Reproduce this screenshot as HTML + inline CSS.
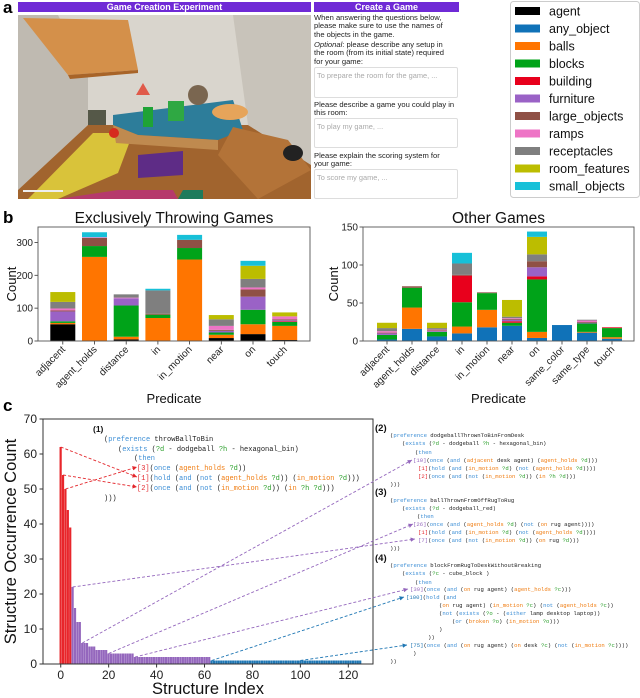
<!DOCTYPE html>
<html><head><meta charset="utf-8">
<style>
body{margin:0;width:640px;height:698px;background:#fff;position:relative;overflow:hidden;font-family:"Liberation Sans",sans-serif}
.abs{position:absolute}
.hdr{background:#6f2ad6;color:#fff;font-weight:bold;font-size:9px;text-align:center;line-height:10px;height:10px}
.ft{font-size:7.6px;line-height:8.4px;color:#222;left:314px;width:150px;white-space:nowrap}
.ta{left:314px;width:144px;border:1px solid #ddd;border-radius:2px;font-size:7.4px;color:#aaa;padding:3px 2px;box-sizing:border-box;white-space:nowrap;overflow:hidden}
</style></head><body>
<div class="abs" style="left:3px;top:-2px;font-size:17px;font-weight:bold">a</div>
<div class="abs" style="left:3px;top:208px;font-size:17px;font-weight:bold">b</div>
<div class="abs" style="left:3px;top:396px;font-size:17px;font-weight:bold">c</div>

<div class="abs hdr" style="left:18px;top:2px;width:293px">Game Creation Experiment</div>
<svg class="abs" style="left:18px;top:15px" width="293" height="184">
<rect width="293" height="184" fill="#d9d5cd"/>
<polygon points="0,0 40,0 70,60 70,110 0,175" fill="#bfbab1"/>
<polygon points="215,0 293,0 293,150 230,110" fill="#c8c3ba"/>
<polygon points="0,175 70,110 230,110 293,150 293,184 0,184" fill="#a1642e"/>
<polygon points="10,184 75,118 115,118 100,158 40,184" fill="#d9c33a"/>
<polygon points="120,140 165,136 165,160 120,163" fill="#5e2c86"/>
<polygon points="40,184 100,175 155,175 160,184" fill="#b63a6c"/>
<polygon points="160,184 165,175 185,175 185,184" fill="#1e7b5c"/>
<polygon points="5,3 110,5 120,55 50,60" fill="#d4904a"/>
<polygon points="50,60 120,55 120,58 52,64" fill="#a86428"/>
<polygon points="95,100 215,85 225,115 200,125 120,120 95,110" fill="#2d7d9a"/>
<polygon points="95,110 120,120 200,125 200,135 98,128" fill="#bf8a4f"/>
<polygon points="215,112 270,125 293,155 240,184 200,140" fill="#b37338"/>
<rect x="125" y="92" width="10" height="20" fill="#1fa336"/>
<polygon points="118,80 125,68 132,80" fill="#e05a4a"/>
<rect x="150" y="86" width="16" height="20" fill="#2fa843"/>
<circle cx="180" cy="80" r="10" fill="#7a6650"/>
<ellipse cx="212" cy="97" rx="18" ry="8" fill="#e6a45a"/>
<rect x="70" y="95" width="18" height="15" fill="#555848"/>
<circle cx="96" cy="118" r="5" fill="#d62a1e"/>
<ellipse cx="275" cy="138" rx="10" ry="8" fill="#222"/>
<rect x="5" y="175" width="40" height="2" fill="#eee"/>
</svg>

<div class="abs hdr" style="left:314px;top:2px;width:145px">Create a Game</div>
<div class="abs ft" style="top:14px">When answering the questions below,<br>please make sure to use the names of<br>the objects in the game.</div>
<div class="abs ft" style="top:41px"><i>Optional</i>: please describe any setup in<br>the room (from its initial state) required<br>for your game:</div>
<div class="abs ta" style="top:67px;height:31px">To prepare the room for the game, ...</div>
<div class="abs ft" style="top:101px">Please describe a game you could play in<br>this room:</div>
<div class="abs ta" style="top:118px;height:30px">To play my game, ...</div>
<div class="abs ft" style="top:152px">Please explain the scoring system for<br>your game:</div>
<div class="abs ta" style="top:169px;height:30px">To score my game, ...</div>

<svg id="main" class="abs" style="left:0;top:0" width="640" height="698" font-family="Liberation Sans, sans-serif"></svg>

<script>
// ---- legend / series ----
const seriesNames = ['agent','any_object','balls','blocks','building','furniture','large_objects','ramps','receptacles','room_features','small_objects'];
const seriesColors = ['#000000','#1072b8','#ff7500','#00a319','#e8001c','#9a62c6','#8f5045','#ee74c6','#7f7f7f','#bcbd00','#17c0d8'];

// ---- chart b1: Exclusively Throwing Games ----
const catsA = ['adjacent','agent_holds','distance','in','in_motion','near','on','touch'];
const agentA = [51,0,5,0,0,9,21,3];
const anyA = [0,0,0,0,0,0,0,0];
const ballsA = [4,256,8,70,248,10,30,43];
const blocksA = [5,33,95,10,35,7,44,12];
const buildingA = [0,0,0,0,0,0,0,2];
const furnitureA = [30,0,22,0,0,5,40,3];
const largeA = [3,25,0,3,25,3,22,3];
const rampsA = [6,2,2,0,0,12,6,9];
const receptaclesA = [20,0,10,71,0,20,26,0];
const roomA = [30,0,0,0,0,13,40,12];
const smallA = [0,15,0,5,15,0,15,0];
const ticksA = [0,100,200,300];

// ---- chart b2: Other Games ----
const catsB = ['adjacent','agent_holds','distance','in','in_motion','near','on','same_color','same_type','touch'];
const agentB = [0,0,0,0,0,0,0,0,0,0];
const anyB = [2,16,6,10,18,20,4,21,11,3];
const ballsB = [0,28,0,9,23,0,8,0,1,2];
const blocksB = [6,26,6,32,22,4,69,0,11,12];
const buildingB = [0,0,0,35,0,2,4,0,0,1];
const furnitureB = [2,0,1,0,0,2,12,0,1,0];
const largeB = [1,2,1,1,1,1,8,0,1,0];
const rampsB = [2,0,1,0,0,1,0,0,2,0];
const receptaclesB = [4,0,2,15,0,2,9,0,1,0];
const roomB = [7,0,7,0,0,22,23,0,0,0];
const smallB = [0,0,0,14,0,0,7,0,0,0];
const ticksB = [0,50,100,150];

// ---- chart c: structure occurrence ----
const structCounts = [62,54,50,44,39,22,16,12,12,6,6,6,5,5,5,4,4,4,4,4,
3,3,3,3,3,3,3,3,3,3,3,
2,2,2,2,2,2,2,2,2,2,2,2,2,2,2,2,2,2,2,2,2,2,2,2,2,2,2,2,2,2,2,2,
1,1,1,1,1,1,1,1,1,1,1,1,1,1,1,1,1,1,1,1,1,1,1,1,1,1,1,1,1,1,1,1,1,1,1,1,1,1,1,1,1,1,1,1,1,1,1,1,1,1,1,1,1,1,1,1,1,1,1,1,1,1,1];
const ticksCx = [0,20,40,60,80,100,120];
const ticksCy = [0,10,20,30,40,50,60,70];
const arrowIdx = [0,1,2,5,9,20,31,63,100];

const NS='http://www.w3.org/2000/svg';
const svg=document.getElementById('main');
function mk(tag,attrs,parent){const e=document.createElementNS(NS,tag);for(const k in attrs)e.setAttribute(k,attrs[k]);(parent||svg).appendChild(e);return e;}

// legend
const lg=mk('g',{});


const lbox=mk('rect',{x:510.5,y:1.5,width:129,height:196,rx:3,fill:'#fff',stroke:'#ccc'},lg);


seriesNames.forEach((n,i)=>{
  const y=11+i*17.5;
  const g=mk('g',{},lg);
  
  
  mk('rect',{x:515,y:y-4,width:25,height:8,fill:seriesColors[i]},g);
  const t=mk('text',{x:549,y:y+4.5,'font-size':12.5,fill:'#111'},g);t.textContent=n;
});

function stacked(opts){
  const {cats,series,ticks,ymax,left,right,top,bottom,c0,step,bw,title,name,tx}=opts;
  const g=mk('g',{});
  
  
  const ys=v=>bottom-(v/ymax)*(bottom-top);
  const xs=i=>c0+i*step;
  cats.forEach((c,i)=>{
    let acc=0;
    series.forEach((arr,s)=>{
      const v=arr[i]; if(!v) return;
      const r=mk('rect',{x:xs(i)-bw/2,y:ys(acc+v),width:bw,height:ys(acc)-ys(acc+v),fill:seriesColors[s]},g);
      
      
      acc+=v;
    });
    mk('line',{x1:xs(i),x2:xs(i),y1:bottom,y2:bottom+3.5,stroke:'#333','stroke-width':0.8},g);
    const t=mk('text',{x:xs(i)+3,y:bottom+9,'font-size':10,fill:'#222','text-anchor':'end',transform:`rotate(-45 ${xs(i)+3} ${bottom+9})`},g);
    t.textContent=c;
    
    
  });
  ticks.forEach(v=>{
    mk('line',{x1:left-3.5,x2:left,y1:ys(v),y2:ys(v),stroke:'#333','stroke-width':0.8},g);
    const t=mk('text',{x:left-5,y:ys(v)+3.5,'font-size':10,fill:'#222','text-anchor':'end'},g);t.textContent=v;
  });
  mk('rect',{x:left,y:top,width:right-left,height:bottom-top,fill:'none',stroke:'#555','stroke-width':0.9},g);
  const tt=mk('text',{x:(left+right)/2,y:top-4,'font-size':15.5,'text-anchor':'middle',fill:'#111'},g);tt.textContent=title;
  
  
  const xl=mk('text',{x:(left+right)/2,y:403,'font-size':13,'text-anchor':'middle',fill:'#111'},g);xl.textContent='Predicate';
  
  
  const yl=mk('text',{x:tx,y:(top+bottom)/2,'font-size':13,'text-anchor':'middle',fill:'#111',transform:`rotate(-90 ${tx} ${(top+bottom)/2})`},g);yl.textContent='Count';
  
  
}
stacked({cats:catsA,series:[agentA,anyA,ballsA,blocksA,buildingA,furnitureA,largeA,rampsA,receptaclesA,roomA,smallA],ticks:ticksA,ymax:347,left:38,right:310,top:227,bottom:341,c0:62.8,step:31.7,bw:25,title:'Exclusively Throwing Games',name:'throwing-games-chart',tx:16});
stacked({cats:catsB,series:[agentB,anyB,ballsB,blocksB,buildingB,furnitureB,largeB,rampsB,receptaclesB,roomB,smallB],ticks:ticksB,ymax:150,left:363,right:634,top:227,bottom:341,c0:387,step:25,bw:20,title:'Other Games',name:'other-games-chart',tx:338});

// chart c
const C={left:43,right:373,top:419,bottom:664,xmin:-7.4,xmax:130.3,ymax:70};
const cx=v=>C.left+(v-C.xmin)/(C.xmax-C.xmin)*(C.right-C.left);
const cy=v=>C.bottom-v/C.ymax*(C.bottom-C.top);
const gc=mk('g',{});


structCounts.forEach((v,i)=>{
  const col=i<5?'#e8262b':(i<63?'#9467bd':'#1f77b4');
  const w=(cx(1)-cx(0));
  const r=mk('rect',{x:cx(i)-w*0.5,y:cy(v),width:w*0.92,height:cy(0)-cy(v),fill:col},gc);
  
  
});
ticksCx.forEach(v=>{
  mk('line',{x1:cx(v),x2:cx(v),y1:C.bottom,y2:C.bottom+3.5,stroke:'#333'},gc);
  const t=mk('text',{x:cx(v),y:C.bottom+15,'font-size':12,'text-anchor':'middle',fill:'#222'},gc);t.textContent=v;
});
ticksCy.forEach(v=>{
  mk('line',{x1:C.left-3.5,x2:C.left,y1:cy(v),y2:cy(v),stroke:'#333'},gc);
  const t=mk('text',{x:C.left-6,y:cy(v)+4,'font-size':12,'text-anchor':'end',fill:'#222'},gc);t.textContent=v;
});
mk('rect',{x:C.left,y:C.top,width:C.right-C.left,height:C.bottom-C.top,fill:'none',stroke:'#333','stroke-width':1},gc);
const cxl=mk('text',{x:(C.left+C.right)/2,y:694,'font-size':16.5,'text-anchor':'middle',fill:'#111'},gc);cxl.textContent='Structure Index';


const cyl=mk('text',{x:16,y:(C.top+C.bottom)/2,'font-size':16.5,'text-anchor':'middle',fill:'#111',transform:`rotate(-90 16 ${(C.top+C.bottom)/2})`},gc);cyl.textContent='Structure Occurrence Count';



// code text
const COL={k:'#222',b:'#3d8fd6',o:'#f07d12',g:'#2ca02c',r:'#e3262b',p:'#9467bd',u:'#1f77b4'};
function code(x,y,size,str){
  const t=mk('text',{x:x,y:y,'font-size':size,'font-family':'Liberation Mono, monospace','xml:space':'preserve'});
  
  
  const parts=str.split('|');
  parts.forEach((p,i)=>{
    let c='k',s=p;
    if(i>0){c=p[0];s=p.slice(1);}
    if(!s) return;
    const ts=mk('tspan',{fill:COL[c]},t);ts.textContent=s;
  });
}
function lab(x,y,s,sz){const t=mk('text',{x:x,y:y,'font-size':sz,'font-weight':'bold',fill:'#111'});t.textContent=s;

}
lab(93,432,'(1)',8.5);
code(104,441,7,"(|bpreference|k throwBallToBin");
code(118,451,7,"(|bexists|k (|g?d|k - dodgeball |g?h|k - hexagonal_bin)");
code(134,460,7,"(|bthen");
code(137,470,7,"|r[3]|k(|bonce|k (|oagent_holds|k |g?d|k))");
code(137,480,7,"|r[1]|k(|bhold|k (|band|k (|bnot|k (|oagent_holds|k |g?d|k)) (|oin_motion|k |g?d|k)))");
code(137,490,7,"|r[2]|k(|bonce|k (|band|k (|bnot|k (|oin_motion|k |g?d|k)) (|oin|k |g?h|k |g?d|k)))");
code(104,500,7,")))");
const S=5.6;
lab(375,431,'(2)',9.5);
code(390,437,S,"(|bpreference|k dodgeballThrownToBinFromDesk");
code(402,445,S,"(|bexists|k (|g?d|k - dodgeball |g?h|k - hexagonal_bin)");
code(415,454,S,"(|bthen");
code(413,462,S,"|p[10]|k(|bonce|k (|band|k (|oadjacent|k desk agent) (|oagent_holds|k |g?d|k)))");
code(418,470,S,"|r[1]|k(|bhold|k (|band|k (|oin_motion|k |g?d|k) (|bnot|k (|oagent_holds|k |g?d|k))))");
code(418,478,S,"|r[2]|k(|bonce|k (|band|k (|bnot|k (|oin_motion|k |g?d|k)) (|oin|k |g?h|k |g?d|k)))");
code(390,486,S,")))");
lab(375,495,'(3)',9.5);
code(390,502,S,"(|bpreference|k ballThrownFromOffRugToRug");
code(402,510,S,"(|bexists|k (|g?d|k - dodgeball_red)");
code(417,518,S,"(|bthen");
code(413,526,S,"|p[26]|k(|bonce|k (|band|k (|oagent_holds|k |g?d|k) (|bnot|k (|oon|k rug agent))))");
code(418,534,S,"|r[1]|k(|bhold|k (|band|k (|oin_motion|k |g?d|k) (|bnot|k (|oagent_holds|k |g?d|k))))");
code(418,542,S,"|p[7]|k(|bonce|k (|band|k (|bnot|k (|oin_motion|k |g?d|k)) (|oon|k rug |g?d|k)))");
code(390,550,S,")))");
lab(375,561,'(4)',9.5);
code(390,567,S,"(|bpreference|k blockFromRugToDeskWithoutBreaking");
code(402,575,S,"(|bexists|k (|g?c|k - cube_block )");
code(415,584,S,"(|bthen");
code(410,591,S,"|p[39]|k(|bonce|k (|band|k (|oon|k rug agent) (|oagent_holds|k |g?c|k)))");
code(406,599,S,"|u[100]|k(|bhold|k (|band");
code(439,607,S,"(|oon|k rug agent) (|oin_motion|k |g?c|k) (|bnot|k (|oagent_holds|k |g?c|k))");
code(439,615,S,"(|bnot|k (|bexists|k (|g?o|k - (|beither|k lamp desktop laptop))");
code(452,623,S,"(|bor|k (|obroken|k |g?o|k) (|oin_motion|k |g?o|k)))");
code(439,631,S,")");
code(428,639,S,"))");
code(410,647,S,"|u[75]|k(|bonce|k (|band|k (|oon|k rug agent) (|oon|k desk |g?c|k) (|bnot|k (|oin_motion|k |g?c|k))))");
code(413,655,S,")");
code(390,663,S,"))");

// arrows
const defs=mk('defs',{});
['r','p','u'].forEach(k=>{
  const m=mk('marker',{id:'ah'+k,viewBox:'0 0 6 6',refX:6,refY:3,markerWidth:5,markerHeight:5,orient:'auto'},defs);
  mk('path',{d:'M0,0 L6,3 L0,6 z',fill:COL[k]},m);
});
const arrowTargets=[[137,477],[137,487],[137,467],[415,539],[412,460],[413,524],[408,589],[404,597],[407,645]];
arrowIdx.forEach((idx,j)=>{
  const k=idx<5?'r':(idx<63?'p':'u');
  const [tx2,ty2]=arrowTargets[j];
  const l=mk('line',{x1:cx(idx),y1:cy(structCounts[idx]),x2:tx2,y2:ty2,stroke:COL[k],'stroke-width':0.9,'stroke-dasharray':'3,2','marker-end':'url(#ah'+k+')'});
  
  
});
</script>
</body></html>
